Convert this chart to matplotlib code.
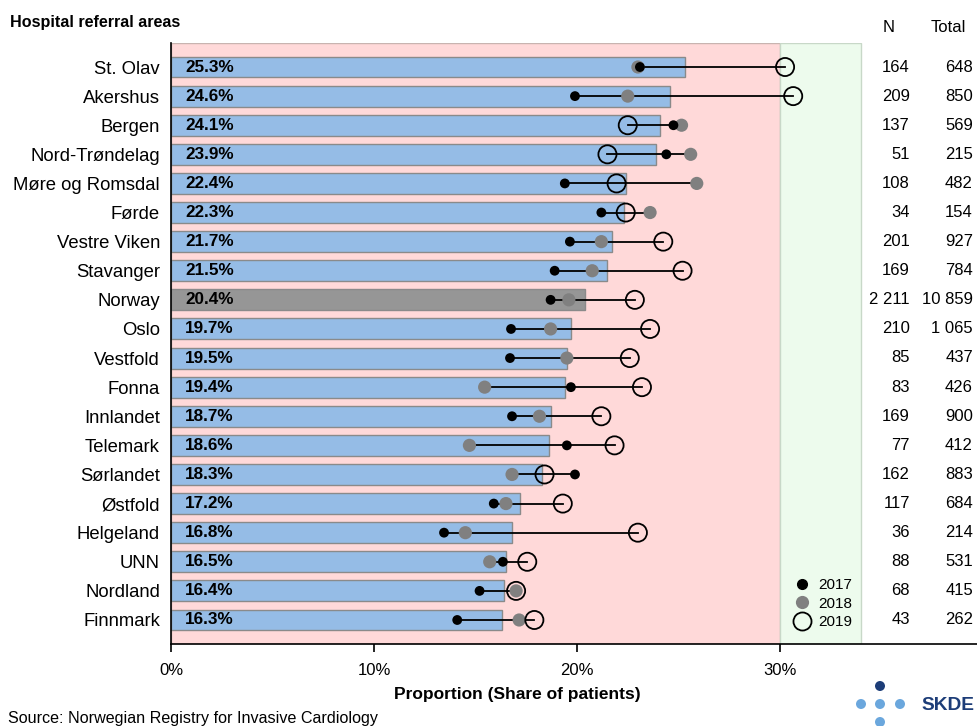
import matplotlib
matplotlib.use("Agg")
import matplotlib.pyplot as plt
from matplotlib.lines import Line2D
from matplotlib.patches import Rectangle, Ellipse

plt.rcParams['font.family'] = ['Liberation Sans', 'DejaVu Sans']

areas = ["St. Olav", "Akershus", "Bergen", "Nord-Trøndelag", "Møre og Romsdal", "Førde",
         "Vestre Viken", "Stavanger", "Norway", "Oslo", "Vestfold", "Fonna", "Innlandet",
         "Telemark", "Sørlandet", "Østfold", "Helgeland", "UNN", "Nordland", "Finnmark"]
share = [25.3, 24.6, 24.1, 23.9, 22.4, 22.3, 21.7, 21.5, 20.4, 19.7, 19.5, 19.4, 18.7,
         18.6, 18.3, 17.2, 16.8, 16.5, 16.4, 16.3]
y2017 = [23.1, 19.9, 24.75, 24.4, 19.4, 21.2, 19.65, 18.9, 18.7, 16.75, 16.7, 19.7, 16.8,
         19.5, 19.9, 15.9, 13.45, 16.35, 15.2, 14.1]
y2018 = [23.0, 22.5, 25.15, 25.6, 25.9, 23.6, 21.2, 20.75, 19.6, 18.7, 19.5, 15.45, 18.15,
         14.7, 16.8, 16.5, 14.5, 15.7, 17.0, 17.15]
y2019 = [30.25, 30.65, 22.5, 21.5, 21.95, 22.4, 24.25, 25.2, 22.85, 23.6, 22.6, 23.2, 21.2,
         21.85, 18.4, 19.3, 23.0, 17.55, 17.0, 17.9]
n_vals = ["164", "209", "137", "51", "108", "34", "201", "169", "2 211", "210", "85", "83",
          "169", "77", "162", "117", "36", "88", "68", "43"]
totals = ["648", "850", "569", "215", "482", "154", "927", "784", "10 859", "1 065", "437",
          "426", "900", "412", "883", "684", "214", "531", "415", "262"]
xticks = [0, 10, 20, 30]
xticklabels = ["0%", "10%", "20%", "30%"]

W, H = 978, 726
fig = plt.figure(figsize=(W / 100, H / 100), dpi=100)
ax = fig.add_axes([171 / W, 1 - 644 / H, (W - 171) / W, (644 - 43) / H])
xmax = (W - 171) / 20.3
ax.set_xlim(0, xmax)
n = len(areas)
ax.set_ylim(n - 1 + 0.825, -0.825)

# background zones
ax.add_patch(Rectangle((0, -0.825), 30, n - 1 + 1.65, facecolor='#ffd9d9',
                       edgecolor='#c8b4b0', lw=1, zorder=0))
ax.add_patch(Rectangle((30, -0.825), 4, n - 1 + 1.65, facecolor='#edfbed',
                       edgecolor='#c8d8c8', lw=1, zorder=0))

ypos = list(range(n))
colors = ['#969696' if a == "Norway" else '#95bce6' for a in areas]
ax.barh(ypos, share, height=0.72, color=colors, edgecolor='#8a8a8a', lw=1, zorder=2)

for i in range(n):
    lo = min(y2017[i], y2018[i], y2019[i])
    hi = max(y2017[i], y2018[i], y2019[i])
    ax.plot([lo, hi], [i, i], color='black', lw=1.3, zorder=3)
    ax.text(0.7, i, f"{share[i]:.1f}%", ha='left', va='center', fontsize=12.3,
            fontweight='bold', zorder=5)

ax.scatter(y2018, ypos, s=90, color='#808080', edgecolors='none', zorder=4)
ax.scatter(y2017, ypos, s=50, color='black', edgecolors='none', zorder=5)
ax.scatter(y2019, ypos, s=170, facecolors='none', edgecolors='black', lw=1.3, zorder=6)

ax.set_yticks(ypos)
ax.set_yticklabels(areas, fontsize=13.3)
ax.tick_params(axis='y', length=0, pad=8)
ax.set_xticks(xticks)
ax.set_xticklabels(xticklabels, fontsize=12)
ax.tick_params(axis='x', length=6, width=1.2, direction='out', pad=8)
for s in ['top', 'right']:
    ax.spines[s].set_visible(False)
ax.spines['left'].set_linewidth(1.2)
ax.spines['bottom'].set_linewidth(1.2)
ax.spines['left'].set_zorder(7)

# N / Total columns
for i in range(n):
    yfig = 1 - (67 + 29.1 * i) / H
    fig.text(910 / W, yfig, n_vals[i], ha='right', va='center', fontsize=12)
    fig.text(973 / W, yfig, totals[i], ha='right', va='center', fontsize=12)
fig.text(889 / W, 1 - 27 / H, "N", ha='center', va='center', fontsize=12)
fig.text(948 / W, 1 - 27 / H, "Total", ha='center', va='center', fontsize=12)

fig.text(10 / W, 1 - 22 / H, "Hospital referral areas", ha='left', va='center',
         fontsize=11.6, fontweight='bold')
fig.text(517 / W, 1 - 695 / H, "Proportion (Share of patients)", ha='center', va='center',
         fontsize=12.5, fontweight='bold')
fig.text(8 / W, 1 - 719 / H, "Source: Norwegian Registry for Invasive Cardiology",
         ha='left', va='center', fontsize=11.6)

# legend
handles = [Line2D([], [], marker='o', ls='', color='black', markersize=7),
           Line2D([], [], marker='o', ls='', color='#808080', markeredgecolor='none', markersize=9.5),
           Line2D([], [], marker='o', ls='', markerfacecolor='none', markeredgecolor='black',
                  markeredgewidth=1.3, markersize=13)]
leg = ax.legend(handles, ["2017", "2018", "2019"], loc='lower left',
                bbox_to_anchor=(783 / W, 1 - 637 / H), bbox_transform=fig.transFigure,
                frameon=False, fontsize=11, handletextpad=0.3, labelspacing=0.3,
                borderpad=0, handlelength=1.5)
leg.set_zorder(8)

# SKDE logo
dark = '#1d3d78'
light = '#6ba7dd'
for (cx, cy, c) in [(880, 686, dark), (861, 704, light), (880, 704, light), (900, 704, light),
                    (880, 722, light)]:
    fig.patches.append(Ellipse((cx / W, 1 - cy / H), 10 / W, 10 / H, transform=fig.transFigure,
                               facecolor=c, edgecolor='none'))
fig.text(921 / W, 1 - 705 / H, "SKDE", ha='left', va='center', fontsize=13.8,
         fontweight='bold', color=dark)

fig.savefig("out.png", dpi=100)
